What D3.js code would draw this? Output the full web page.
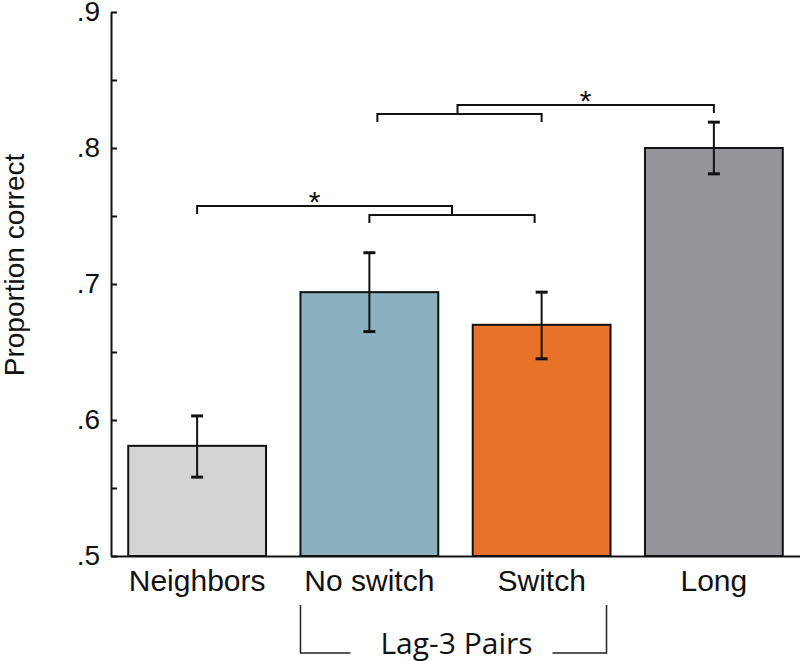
<!DOCTYPE html>
<html>
<head>
<meta charset="utf-8">
<script src="https://cdn.jsdelivr.net/npm/d3@7/dist/d3.min.js"></script>
<style>
  html, body { margin: 0; padding: 0; background: #fff; }
  svg { display: block; }
</style>
</head>
<body>
<svg id="chart" width="800" height="661"></svg>
<script>
// ---- data ----
const categories = ["Neighbors", "No switch", "Switch", "Long"];
const means      = [0.581, 0.694, 0.670, 0.800];
const errLow     = [0.558, 0.665, 0.645, 0.781];
const errHigh    = [0.603, 0.723, 0.694, 0.819];
const barColors  = ["#d3d4d6", "#8ab1c0", "#e87229", "#939598"];
const yTicks     = [0.5, 0.6, 0.7, 0.8, 0.9];
const yMinorTicks = [0.5, 0.55, 0.6, 0.65, 0.7, 0.75, 0.8, 0.85, 0.9];
const yLabel = "Proportion correct";
const groupLabel = "Lag-3 Pairs";
const groupMembers = ["No switch", "Switch"];
const sigLabels = ["*", "*"];
const sigTopLevels = [0.7574, 0.8316];
const sigSubLevels = [0.7507, 0.8250];

// ---- layout ----
const svg = d3.select("#chart");
const x = d3.scaleBand().domain(categories).range([111, 800]).paddingInner(0.2).paddingOuter(0.1);
const y = d3.scaleLinear().domain([0.5, 0.9]).range([556, 12]);
const fmt = d => d3.format(".1f")(d).replace(/^0/, "");

// bars
svg.append("g").selectAll("rect").data(categories).join("rect")
  .attr("x", d => x(d))
  .attr("y", (d, i) => y(means[i]))
  .attr("width", x.bandwidth())
  .attr("height", (d, i) => y(0.5) - y(means[i]))
  .attr("fill", (d, i) => barColors[i])
  .attr("stroke", "#111")
  .attr("stroke-width", 2);

// error bars
const eb = svg.append("g").attr("stroke", "#111").attr("stroke-width", 2);
categories.forEach((c, i) => {
  const cx = x(c) + x.bandwidth() / 2;
  eb.append("line").attr("x1", cx).attr("x2", cx).attr("y1", y(errLow[i])).attr("y2", y(errHigh[i]));
  eb.append("line").attr("x1", cx - 6).attr("x2", cx + 6).attr("y1", y(errLow[i])).attr("y2", y(errLow[i])).attr("stroke-width", 3);
  eb.append("line").attr("x1", cx - 6).attr("x2", cx + 6).attr("y1", y(errHigh[i])).attr("y2", y(errHigh[i])).attr("stroke-width", 3);
});

// y axis: ticks inward
const yAxisTicks = svg.append("g").attr("transform", "translate(111,0)")
  .call(d3.axisRight(y).tickValues(yMinorTicks).tickSizeInner(6).tickSizeOuter(0).tickFormat(""));
yAxisTicks.selectAll("path, line").attr("stroke", "#111").attr("stroke-width", 2);

// y axis labels
const yAxisLabels = svg.append("g").attr("transform", "translate(111,0)")
  .call(d3.axisLeft(y).tickValues(yTicks).tickSize(0).tickPadding(11).tickFormat(fmt));
yAxisLabels.select(".domain").remove();
yAxisLabels.selectAll("text")
  .attr("font-family", "Liberation Sans, Arial, sans-serif")
  .attr("font-size", 28).attr("fill", "#111");

// x axis
const xAxis = svg.append("g").attr("transform", "translate(0,556)")
  .call(d3.axisBottom(x).tickSize(0).tickSizeOuter(0).tickPadding(14));
xAxis.select(".domain").attr("stroke", "#111").attr("stroke-width", 2);
xAxis.selectAll("text")
  .attr("font-family", "Liberation Sans, Arial, sans-serif")
  .attr("font-size", 30).attr("fill", "#111");

// y label
svg.append("text")
  .attr("transform", "translate(24,265) rotate(-90)")
  .attr("text-anchor", "middle")
  .attr("font-family", "Liberation Sans, Arial, sans-serif")
  .attr("font-size", 28).attr("fill", "#111")
  .text(yLabel);

// group label bracket
const gL = x(groupMembers[0]);
const gR = x(groupMembers[1]) + x.bandwidth();
const gb = svg.append("g").attr("stroke", "#222").attr("stroke-width", 1.5).attr("fill", "none");
gb.append("path").attr("d", `M${gL},605V653H${gL + 50}`);
gb.append("path").attr("d", `M${gR - 4},605V653H${gR - 58}`);
svg.append("text")
  .attr("x", (gL + gR) / 2 + 1).attr("y", 654)
  .attr("text-anchor", "middle")
  .attr("font-family", "Open Sans, sans-serif")
  .attr("font-size", 30).attr("fill", "#111")
  .text(groupLabel);

// significance brackets
const cx = c => x(c) + x.bandwidth() / 2;
const sg = svg.append("g").attr("stroke", "#111").attr("stroke-width", 2).attr("fill", "none");
const drop = 8;
// bracket A: Neighbors vs Lag-3 pairs
{
  const subL = cx(groupMembers[0]), subR = cx(groupMembers[1]) - 7;
  const subY = y(sigSubLevels[0]), topY = y(sigTopLevels[0]);
  const mid = (subL + subR) / 2;
  sg.append("path").attr("d", `M${subL},${subY + drop}V${subY}H${subR}V${subY + drop}`);
  sg.append("path").attr("d", `M${cx(categories[0])},${topY + drop}V${topY}H${mid}V${subY}`);
  svg.append("text").attr("x", (cx(categories[0]) + mid) / 2 - 10).attr("y", topY + 6)
    .attr("text-anchor", "middle").attr("font-family", "Liberation Sans, Arial, sans-serif")
    .attr("font-size", 30).attr("fill", "#111").text(sigLabels[0]);
}
// bracket B: Lag-3 pairs vs Long
{
  const subL = cx(groupMembers[0]) + 8, subR = cx(groupMembers[1]);
  const subY = y(sigSubLevels[1]), topY = y(sigTopLevels[1]);
  const mid = (subL + subR) / 2 - 2;
  sg.append("path").attr("d", `M${subL},${subY + drop}V${subY}H${subR}V${subY + drop}`);
  sg.append("path").attr("d", `M${mid},${subY}V${topY}H${cx(categories[3])}V${topY + drop}`);
  svg.append("text").attr("x", (mid + cx(categories[3])) / 2).attr("y", topY + 6)
    .attr("text-anchor", "middle").attr("font-family", "Liberation Sans, Arial, sans-serif")
    .attr("font-size", 30).attr("fill", "#111").text(sigLabels[1]);
}
</script>
</body>
</html>
